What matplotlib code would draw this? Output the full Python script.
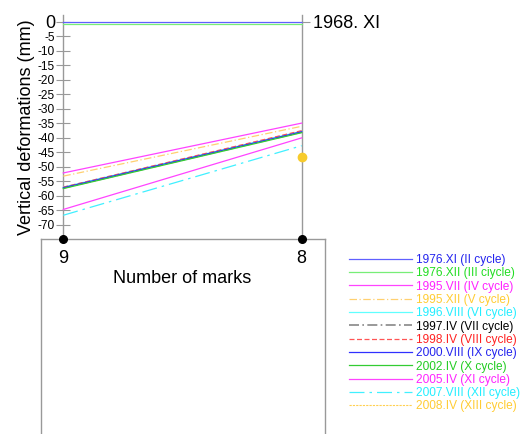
import numpy as np
import matplotlib
matplotlib.use("Agg")
import matplotlib.pyplot as plt

plt.rcParams['font.family'] = ['Liberation Sans', 'DejaVu Sans']

marks = [9, 8]
labels = ["1976.XI (II cycle)", "1976.XII (III ciycle)", "1995.VII (IV cycle)",
          "1995.XII (V cycle)", "1996.VIII (VI cycle)", "1997.IV (VII cycle)",
          "1998.IV (VIII cycle)", "2000.VIII (IX cycle)", "2002.IV (X cycle)",
          "2005.IV (XI cycle)", "2007.VIII (XII cycle)", "2008.IV (XIII cycle)"]
c2 = [0.0, 0.0]
c3 = [-0.6, -0.6]
c4 = [-52.1, -34.9]
c5 = [-53.2, -36.0]
c6 = [-57.0, -37.7]
c7 = [-57.3, -38.0]
c8 = [-57.0, -37.5]
c9 = [-57.2, -37.9]
c10 = [-57.5, -38.2]
c11 = [-64.7, -40.0]
c12 = [-66.7, -42.7]
c13 = [np.nan, -46.7]
series = [c2, c3, c4, c5, c6, c7, c8, c9, c10, c11, c12, c13]
yticks = list(range(0, -75, -5))

line_colors = ['#6060ff', '#77ee77', '#ff44ff', '#ffd070', '#60ffff', '#888888',
               '#ff5555', '#3030ff', '#33cc33', '#ff44ff', '#40f0ff', '#ffd050']
text_colors = ['#2424ee', '#22dd22', '#ff22ff', '#ffcc33', '#22eeff', '#000000',
               '#ff2222', '#2424ee', '#22cc22', '#ff22ff', '#22eeff', '#ffcc33']
styles = ['-', '-', '-', (0, (6, 2, 1, 2)), '-', (0, (6, 2, 1, 2)),
          (0, (4, 2)), '-', '-', '-', (0, (12, 4, 2, 4)), (0, (2, 1))]
widths = [0.9, 0.9, 0.9, 0.9, 0.9, 1.2, 0.9, 0.9, 0.9, 0.9, 0.9, 0.8]
zs = [4, 3, 3, 3, 3, 3, 3, 3, 3, 3, 3, 3]
mk = ['', '', '', '', '', '', '', '', '', '', '', 'o']

W, H = 525, 434
fig = plt.figure(figsize=(W / 100, H / 100), dpi=100)

def fx(px):
    return px / W

def fy(py):
    return 1 - py / H

# lower box
axb = fig.add_axes([fx(41), fy(445), fx(325) - fx(41), fy(239.3) - fy(445)])
axb.set_xticks([]); axb.set_yticks([])
for s in axb.spines.values():
    s.set_color('#999999'); s.set_linewidth(1.0)
axb.patch.set_alpha(0)

ax = fig.add_axes([fx(63.3), fy(239.3), fx(301.7) - fx(63.3), fy(15) - fy(239.3)])
ax.patch.set_alpha(0)
ax.set_xlim(9, 8)
ax.set_ylim(-75, 2.4)

handles = []
for vals, lab, lc, ls, lw, m, z in zip(series, labels, line_colors, styles, widths, mk, zs):
    h, = ax.plot(marks, vals, color=lc, linestyle=ls, linewidth=lw, label=lab,
                 marker=m if m else None, markersize=6, markerfacecolor='#f7cb2c',
                 markeredgecolor='#f7cb2c', clip_on=False, zorder=z)
    handles.append(h)

ax.plot(marks, [-75, -75], linestyle='none', marker='o', color='black',
        markersize=5.5, clip_on=False, zorder=5)

for s in ['top', 'bottom']:
    ax.spines[s].set_visible(False)
for s in ['left', 'right']:
    ax.spines[s].set_color('#999999'); ax.spines[s].set_linewidth(1.0)

ax.set_yticks(yticks)
ax.set_yticklabels([str(v) for v in yticks])
ax.tick_params(axis='y', direction='inout', length=10, width=0.8, color='#999999',
               labelsize=8.6, pad=1)
ax.get_yticklabels()[0].set_fontsize(13)
ax.set_ylabel('Vertical deformations (mm)', fontsize=13, labelpad=2)

ax.set_xticks(marks)
ax.set_xticklabels([str(m) for m in marks])
ax.tick_params(axis='x', length=0, labelsize=13, pad=8)
ax.set_xlabel('Number of marks', fontsize=13, labelpad=2)

ax2 = ax.twinx()
ax2.set_ylim(ax.get_ylim())
ax2.set_yticks([0])
ax2.set_yticklabels(['1968. XI'])
ax2.tick_params(axis='y', direction='out', length=6, width=0.8, color='#999999',
                labelsize=13, pad=2)
for s in ax2.spines.values():
    s.set_visible(False)

leg = fig.legend(handles, labels, loc='upper left',
                 bbox_to_anchor=(fx(349), fy(254)), frameon=False,
                 fontsize=8.6, handlelength=5.3, handletextpad=0.35,
                 labelspacing=0.11, borderpad=0, borderaxespad=0)
for t, c in zip(leg.get_texts(), text_colors):
    t.set_color(c)
leg.legend_handles[-1].set_marker('')

fig.savefig('out.png', dpi=100)
